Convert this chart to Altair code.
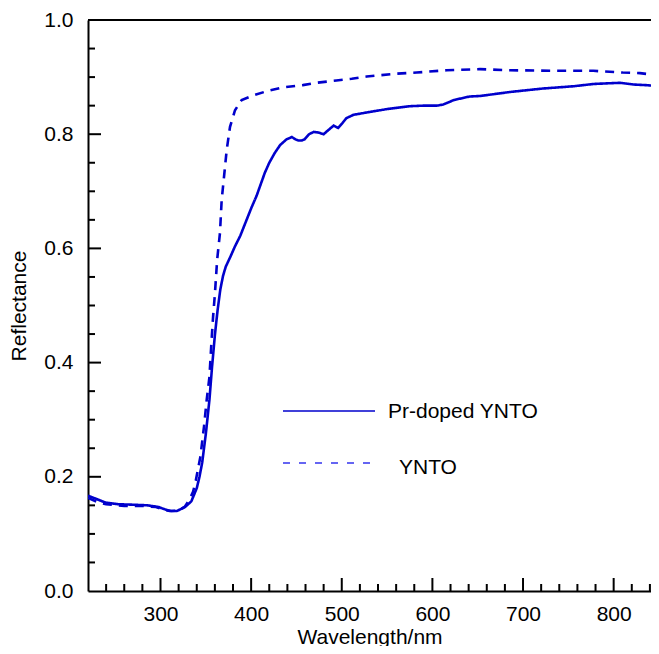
import altair as alt
import pandas as pd

# ---- data ----
pr_wl = [220, 228, 239, 253, 272, 286, 298, 310, 318, 327, 334, 340, 343, 346, 350, 354, 357, 360,
         363, 366, 369, 372, 377, 382, 388, 395, 400, 406, 415, 420, 426, 432, 439, 445, 449, 452,
         456, 459, 464, 469, 474, 480, 485, 491, 496, 501, 505, 513, 531, 550, 575, 590, 605, 612,
         618, 624, 641, 653, 686, 722, 756, 778, 807, 822, 835, 850]
pr_r = [0.167, 0.162, 0.155, 0.152, 0.151, 0.150, 0.147, 0.140, 0.140, 0.147, 0.157, 0.180, 0.200,
        0.225, 0.275, 0.335, 0.395, 0.448, 0.492, 0.528, 0.552, 0.568, 0.585, 0.603, 0.622, 0.650,
        0.670, 0.692, 0.732, 0.750, 0.767, 0.781, 0.791, 0.795, 0.791, 0.789, 0.789, 0.791, 0.800,
        0.804, 0.803, 0.800, 0.807, 0.815, 0.811, 0.820, 0.828, 0.834, 0.839, 0.844, 0.849, 0.850,
        0.850, 0.852, 0.856, 0.860, 0.866, 0.867, 0.874, 0.880, 0.884, 0.888, 0.890, 0.887, 0.886,
        0.884]

yn_wl = [220, 230, 240, 260, 280, 295, 305, 312, 320, 327, 332, 336, 339, 344, 348, 351, 354, 356,
         358, 360, 362.5, 365.6, 367.5, 371.2, 373, 376.7, 382.2, 389.6, 400.6, 418.6, 435, 457, 472,
         494, 511, 527.5, 560.6, 582.7, 615.8, 652.5, 685.6, 740.8, 777.5, 810, 829, 850]
yn_r = [0.163, 0.156, 0.152, 0.149, 0.149, 0.147, 0.142, 0.140, 0.141, 0.148, 0.160, 0.174, 0.194,
        0.235, 0.288, 0.335, 0.375, 0.430, 0.480, 0.520, 0.580, 0.627, 0.685, 0.743, 0.772, 0.813,
        0.842, 0.860, 0.867, 0.876, 0.882, 0.886, 0.890, 0.894, 0.897, 0.901, 0.906, 0.908, 0.912,
        0.914, 0.912, 0.911, 0.911, 0.908, 0.907, 0.903]

series_names = ["Pr-doped YNTO", "YNTO"]

x_major = [300, 400, 500, 600, 700, 800]
x_minor = [240, 260, 280, 320, 340, 360, 380, 420, 440, 460, 480, 520, 540, 560, 580,
           620, 640, 660, 680, 720, 740, 760, 780, 820, 840]
y_major = [0.2, 0.4, 0.6, 0.8]
y_minor = [0.05, 0.1, 0.15, 0.25, 0.3, 0.35, 0.45, 0.5, 0.55, 0.65, 0.7, 0.75, 0.85, 0.9, 0.95]
x_labels = [300, 400, 500, 600, 700, 800]
y_labels = [0.0, 0.2, 0.4, 0.6, 0.8, 1.0]

# ---- build tables ----
df = pd.concat([
    pd.DataFrame({"wl": pr_wl, "r": pr_r, "series": series_names[0]}),
    pd.DataFrame({"wl": yn_wl, "r": yn_r, "series": series_names[1]}),
])

W, H = 563, 571
BLUE = "#0000cc"
FONT = "Liberation Sans"

xscale = alt.Scale(domain=[220, 841.2], nice=False, zero=False)
yscale = alt.Scale(domain=[0, 1], nice=False, zero=False)

x_enc = alt.X("wl:Q", scale=xscale, title="Wavelength/nm",
              axis=alt.Axis(values=x_labels, format="d", ticks=False, grid=False,
                            labelPadding=12, titlePadding=2))
y_enc = alt.Y("r:Q", scale=yscale, title="Reflectance",
              axis=alt.Axis(values=y_labels, format=".1f", ticks=False, grid=False,
                            labelPadding=15, titlePadding=14))

lines = alt.Chart(df).mark_line(clip=True, strokeWidth=2.6, color=BLUE).encode(
    x=x_enc, y=y_enc,
    strokeDash=alt.StrokeDash("series:N", legend=None,
                              scale=alt.Scale(domain=series_names, range=[[1, 0], [9, 7]])),
    detail="series:N",
)

def xticks(vals, length):
    return alt.Chart(pd.DataFrame({"wl": vals})).mark_rule(color="black", strokeWidth=2).encode(
        x=alt.X("wl:Q", scale=xscale), y=alt.value(H), y2=alt.value(H - length))

def yticks(vals, length):
    return alt.Chart(pd.DataFrame({"r": vals})).mark_rule(color="black", strokeWidth=2).encode(
        y=alt.Y("r:Q", scale=yscale), x=alt.value(0), x2=alt.value(length))

top_line = alt.Chart(pd.DataFrame({"a": [0]})).mark_rule(color="black", strokeWidth=2.2).encode(
    x=alt.value(0), x2=alt.value(W), y=alt.value(0))

# manual legend
leg_solid = alt.Chart(pd.DataFrame({"series": [series_names[0]]})).mark_rule(
    color=BLUE, strokeWidth=1.4).encode(x=alt.value(195), x2=alt.value(287), y=alt.value(391))
leg_dash = alt.Chart(pd.DataFrame({"series": [series_names[1]]})).mark_rule(
    color="#3333ee", strokeWidth=1.4, strokeDash=[7, 9]).encode(
    x=alt.value(195), x2=alt.value(287), y=alt.value(443))
leg_t1 = alt.Chart(pd.DataFrame({"series": [series_names[0]]})).mark_text(
    align="left", baseline="middle", fontSize=21, font=FONT, color="black").encode(
    x=alt.value(300), y=alt.value(392), text="series:N")
leg_t2 = alt.Chart(pd.DataFrame({"series": [series_names[1]]})).mark_text(
    align="left", baseline="middle", fontSize=21, font=FONT, color="black").encode(
    x=alt.value(311), y=alt.value(448), text="series:N")

chart = alt.layer(
    lines,
    xticks(x_major, 13), xticks(x_minor, 7),
    yticks(y_major, 13), yticks(y_minor, 7),
    top_line, leg_solid, leg_dash, leg_t1, leg_t2,
).properties(
    width=W, height=H,
    autosize=alt.AutoSizeParams(type="none"),
    padding={"left": 80, "top": 12, "right": 0, "bottom": 55},
    background="white",
).configure_view(stroke=None).configure_axis(
    domainColor="black", domainWidth=2, labelFont=FONT, titleFont=FONT,
    labelFontSize=21, titleFontSize=21, labelColor="black", titleColor="black",
    titleFontWeight="normal",
)

chart.save("out.html", embed_options={"renderer": "svg", "actions": False})
